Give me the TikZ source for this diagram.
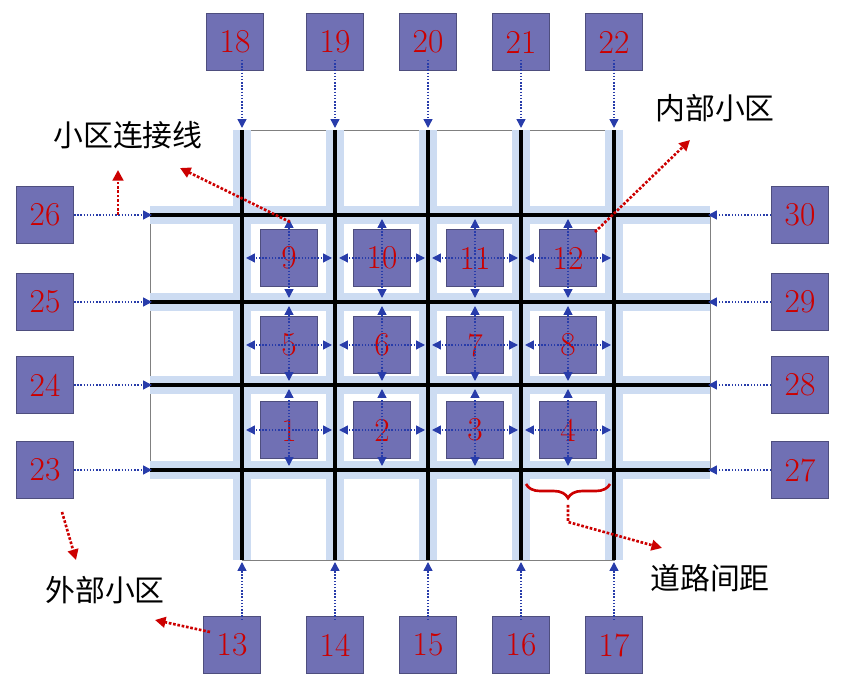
\documentclass[tikz,border=0pt]{standalone}
\usepackage{fontspec}
\newfontfamily\cjk{Noto Sans CJK SC}
\usetikzlibrary{arrows.meta,decorations.pathreplacing}
\definecolor{cellblue}{RGB}{112,112,180}
\definecolor{linkblue}{RGB}{40,60,170}
\definecolor{glow}{RGB}{205,220,242}
\tikzset{
cell/.style={draw=cellblue!70!black,fill=cellblue,minimum size=1.15cm,inner sep=0pt,
  font=\fontsize{19}{19}\selectfont,text=red!80!black},
link/.style={densely dotted,thick,linkblue,-{Triangle[length=5pt,width=5pt]}},
roadglow/.style={line width=10pt,glow},
road/.style={line width=2pt,black},
note/.style={red!80!black,densely dotted,line width=1.5pt,-{Triangle[length=6pt,width=6pt]}},
lbl/.style={font=\cjk\fontsize{17}{17}\selectfont}
}
\begin{document}
\begin{tikzpicture}[x=0.02cm,y=-0.02cm]
\useasboundingbox (0,0) rectangle (853,688);
% outline
\draw [gray] (242,130) rectangle (614,560);
\draw [gray] (150,215) rectangle (710,470);
% roads
\foreach \x in {242,335,428,521,614} \draw [roadglow] (\x,130) -- (\x,560);
\foreach \y in {215,302,385,470} \draw [roadglow] (150,\y) -- (710,\y);
\foreach \x in {242,335,428,521,614} \draw [road] (\x,130) -- (\x,560);
\foreach \y in {215,302,385,470} \draw [road] (150,\y) -- (710,\y);
% inner cells
\node [cell] (c1) at (289,430) {1};
\node [cell] (c2) at (382,430) {2};
\node [cell] (c3) at (475,430) {3};
\node [cell] (c4) at (568,430) {4};
\node [cell] (c5) at (289,345) {5};
\node [cell] (c6) at (382,345) {6};
\node [cell] (c7) at (475,345) {7};
\node [cell] (c8) at (568,345) {8};
\node [cell] (c9) at (289,258) {9};
\node [cell] (c10) at (382,258) {10};
\node [cell] (c11) at (475,258) {11};
\node [cell] (c12) at (568,258) {12};
% links of inner cells
\foreach \c/\x/\y/\t/\b in {1/289/430/385/470,2/382/430/385/470,3/475/430/385/470,4/568/430/385/470,
 5/289/345/302/385,6/382/345/302/385,7/475/345/302/385,8/568/345/302/385,
 9/289/258/215/302,10/382/258/215/302,11/475/258/215/302,12/568/258/215/302}{
 \coordinate (t\c) at (\x,\t+4);
 \coordinate (b\c) at (\x,\b-4);
 \coordinate (l\c) at (\x-43,\y);
 \coordinate (r\c) at (\x+43,\y);
 \draw [link] (c\c.center) -- (t\c);
 \draw [link] (c\c.center) -- (b\c);
 \draw [link] (c\c.center) -- (l\c);
 \draw [link] (c\c.center) -- (r\c);
}
% outer cells
\node [cell] (c13) at (232,645) {13};
\node [cell] (c14) at (335,645) {14};
\node [cell] (c15) at (428,645) {15};
\node [cell] (c16) at (521,645) {16};
\node [cell] (c17) at (614,645) {17};
\node [cell] (c18) at (235,42) {18};
\node [cell] (c19) at (335,42) {19};
\node [cell] (c20) at (428,42) {20};
\node [cell] (c21) at (521,42) {21};
\node [cell] (c22) at (614,42) {22};
\node [cell] (c23) at (45,470) {23};
\node [cell] (c24) at (45,385) {24};
\node [cell] (c25) at (45,302) {25};
\node [cell] (c26) at (45,215) {26};
\node [cell] (c27) at (800,470) {27};
\node [cell] (c28) at (800,385) {28};
\node [cell] (c29) at (800,302) {29};
\node [cell] (c30) at (800,215) {30};
\foreach \c/\x in {13/242,14/335,15/428,16/521,17/614}{
 \coordinate (e\c) at (\x,562);
 \draw [link] (\x,620) -- (e\c);
}
\foreach \c/\x in {18/242,19/335,20/428,21/521,22/614}{
 \coordinate (e\c) at (\x,128);
 \draw [link] (\x,60) -- (e\c);
}
\foreach \c/\y in {23/470,24/385,25/302,26/215}{
 \coordinate (e\c) at (152,\y);
 \draw [link] (c\c.east) -- (e\c);
}
\foreach \c/\y in {27/470,28/385,29/302,30/215}{
 \coordinate (e\c) at (708,\y);
 \draw [link] (c\c.west) -- (e\c);
}
% labels
\node [lbl] (n1) at (128,135) {小区连接线};
\node [lbl] (n2) at (715,108) {内部小区};
\node [lbl] (n3) at (105,590) {外部小区};
\node [lbl] (n4) at (710,578) {道路间距};
\coordinate (p1) at (290,222);
\coordinate (p2) at (595,232);
\coordinate (p3) at (118,215);
\coordinate (p4) at (62,512);
\coordinate (p5) at (210,632);
\coordinate (p6) at (568,505);
\draw [note] (p1) -- (180,168);
\draw [note] (p2) -- (690,140);
\draw [note] (p3) -- (118,170);
\draw [note] (p4) -- (76,560);
\draw [note] (p5) -- (155,620);
\draw [note] (p6) -- (568,522) -- (662,548);
\draw [red!80!black,line width=1.5pt,decorate,decoration={brace,amplitude=8pt,mirror}] (526,484) -- (610,484);
\end{tikzpicture}
\end{document}
